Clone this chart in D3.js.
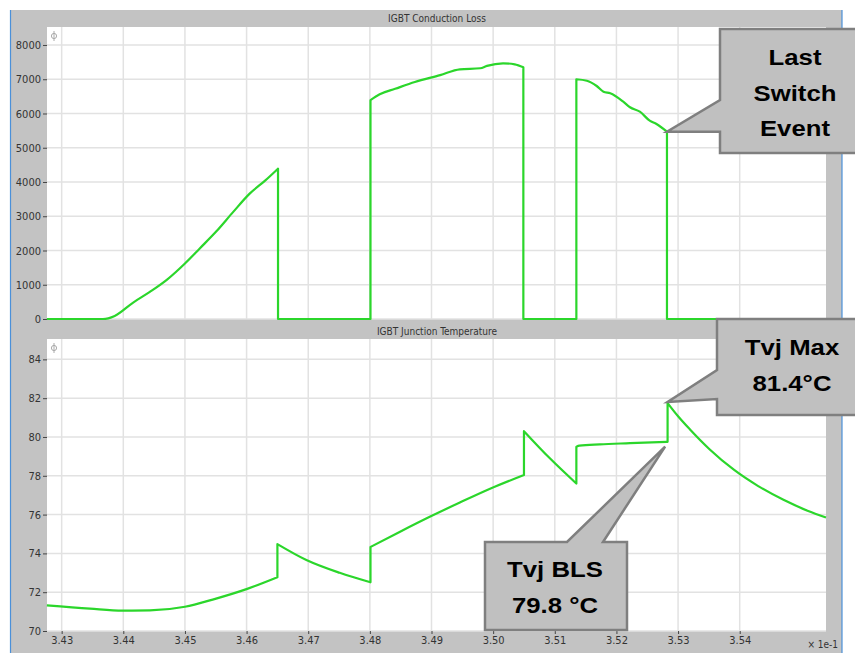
<!DOCTYPE html>
<html>
<head>
<meta charset="utf-8">
<script src="https://cdn.jsdelivr.net/npm/d3@7"></script>
<style>
  body { margin: 0; background: #fff; }
  svg { display: block; }
</style>
</head>
<body>
<svg id="chart" width="855" height="653"></svg>
<script>
// time axis in units of 1e-1 s
var lossTime = [3.4276, 3.4367, 3.4386, 3.4416, 3.4443, 3.4471, 3.4500, 3.4524, 3.4551, 3.4578, 3.4605, 3.4630, 3.4651,
                3.4651, 3.4801,
                3.4801, 3.4816, 3.4841, 3.4873, 3.4914, 3.4946, 3.4979, 3.4990, 3.5016, 3.5035, 3.5049,
                3.5049, 3.5135,
                3.5135, 3.5152, 3.5168, 3.5179, 3.5190, 3.5211, 3.5222, 3.5238, 3.5254, 3.5265, 3.5282,
                3.5282, 3.5540];
var lossValue = [0, 0, 90, 480, 790, 1150, 1620, 2060, 2560, 3120, 3660, 4040, 4390,
                 0, 0,
                 6390, 6560, 6720, 6920, 7120, 7290, 7320, 7390, 7465, 7436, 7350,
                 0, 0,
                 7000, 6957, 6803, 6637, 6589, 6345, 6181, 6053, 5790, 5693, 5469,
                 0, 0];

var tempTime = [3.4276, 3.4346, 3.4399, 3.4443, 3.4500, 3.4545, 3.4601, 3.4650,
                3.4650, 3.4697, 3.4751, 3.4801,
                3.4801, 3.4849, 3.4898, 3.4946, 3.4995, 3.5050,
                3.5050, 3.5092, 3.5135,
                3.5135, 3.5140, 3.5173, 3.5222, 3.5283,
                3.5283, 3.5300, 3.5319, 3.5351, 3.5391, 3.5430, 3.5471, 3.5510, 3.5540];
var tempValue = [71.32, 71.15, 71.05, 71.06, 71.25, 71.62, 72.17, 72.77,
                 74.48, 73.66, 73.0, 72.51,
                 74.33, 75.12, 75.9, 76.62, 77.33, 78.04,
                 80.3, 78.9, 77.6,
                 79.5, 79.55, 79.62, 79.68, 79.75,
                 81.75, 81.07, 80.4, 79.37, 78.3, 77.47, 76.76, 76.2, 75.85];

var xTicks = [3.43, 3.44, 3.45, 3.46, 3.47, 3.48, 3.49, 3.50, 3.51, 3.52, 3.53, 3.54];
var lossTicks = [0, 1000, 2000, 3000, 4000, 5000, 6000, 7000, 8000];
var tempTicks = [70, 72, 74, 76, 78, 80, 82, 84];

var titles = ["IGBT Conduction Loss", "IGBT Junction Temperature"];
var lastSwitchText = ["Last", "Switch", "Event"];
var maxText = ["Tvj Max", "81.4°C"];
var blsText = ["Tvj BLS", "79.8 °C"];

var svg = d3.select("#chart");
var gray = "#c3c3c3";
var green = "#2bd62b";
var tickFont = "'DejaVu Sans Condensed', 'DejaVu Sans', sans-serif";

var left = 47, right = 826;
var x = d3.scaleLinear().domain([3.42762, 3.5540]).range([left, right]);
var yLoss = d3.scaleLinear().domain([0, 8525]).range([319, 27]);
var yTemp = d3.scaleLinear().domain([70, 85.05]).range([631, 339]);

// frame
svg.append("rect").attr("x", 10).attr("y", 10).attr("width", 832).attr("height", 643).attr("fill", gray);
svg.append("line").attr("x1", 10.5).attr("x2", 10.5).attr("y1", 10).attr("y2", 653).attr("stroke", "#4a90d9").attr("stroke-width", 1.2);
svg.append("line").attr("x1", 842).attr("x2", 842).attr("y1", 10).attr("y2", 653).attr("stroke", "#4a90d9").attr("stroke-width", 1.2);

function panel(y, ticks, title, titleY, showX) {
  var top = y.range()[1], bottom = y.range()[0];
  var g = svg.append("g");
  g.append("rect").attr("x", left).attr("y", top).attr("width", right - left).attr("height", bottom - top).attr("fill", "#fff");

  // grid
  g.selectAll(".gx").data(xTicks).enter().append("line")
    .attr("x1", function(d) { return x(d); }).attr("x2", function(d) { return x(d); })
    .attr("y1", top).attr("y2", bottom)
    .attr("stroke", "#e2e2e2").attr("stroke-width", 1.5);
  g.selectAll(".gy").data(ticks).enter().append("line")
    .attr("x1", left).attr("x2", right)
    .attr("y1", function(d) { return y(d); }).attr("y2", function(d) { return y(d); })
    .attr("stroke", "#e2e2e2").attr("stroke-width", 1.5);

  // y axis
  var ax = g.append("g").attr("transform", "translate(" + left + ",0)")
    .call(d3.axisLeft(y).tickValues(ticks).tickSize(4).tickPadding(2).tickFormat(d3.format("d")));
  ax.select(".domain").remove();
  ax.selectAll("line").attr("stroke", "#444");
  ax.selectAll("text").attr("fill", "#333").style("font-family", tickFont).style("font-size", "11px");

  if (showX) {
    var bx = g.append("g").attr("transform", "translate(0," + bottom + ")")
      .call(d3.axisBottom(x).tickValues(xTicks).tickSize(3).tickPadding(2).tickFormat(d3.format(".2f")));
    bx.select(".domain").remove();
    bx.selectAll("line").attr("stroke", "#444");
    bx.selectAll("text").attr("fill", "#333").style("font-family", tickFont).style("font-size", "11px");
    g.append("text").attr("x", 838).attr("y", 648).attr("text-anchor", "end")
      .attr("fill", "#333").style("font-family", tickFont).style("font-size", "10px").text("× 1e-1");
  }

  // title
  g.append("text").attr("x", 437).attr("y", titleY).attr("text-anchor", "middle")
    .attr("fill", "#333").style("font-family", tickFont).style("font-size", "10px").text(title);

  // small handle icon
  g.append("circle").attr("cx", 54).attr("cy", top + 9).attr("r", 2.6).attr("fill", "none").attr("stroke", "#aaa").attr("stroke-width", 1);
  g.append("line").attr("x1", 54).attr("x2", 54).attr("y1", top + 4).attr("y2", top + 14).attr("stroke", "#aaa").attr("stroke-width", 1);
  return g;
}

panel(yLoss, lossTicks, titles[0], 22, false);
panel(yTemp, tempTicks, titles[1], 335, true);

// split a series at repeated times (vertical steps), smooth each piece, then join
function steppedPath(times, values, y) {
  var line = d3.line().x(function(d) { return x(d[0]); }).y(function(d) { return y(d[1]); }).curve(d3.curveMonotoneX);
  var pieces = [], cur = [];
  times.forEach(function(t, i) {
    if (cur.length && t === cur[cur.length - 1][0]) { pieces.push(cur); cur = []; }
    cur.push([t, values[i]]);
  });
  pieces.push(cur);
  return pieces.map(function(p, i) {
    var d = line(p);
    return i === 0 ? d : "L" + d.slice(1);
  }).join("");
}

svg.append("path").attr("d", steppedPath(lossTime, lossValue, yLoss)).attr("fill", "none").attr("stroke", green).attr("stroke-width", 2.2).attr("stroke-linejoin", "round");
svg.append("path").attr("d", steppedPath(tempTime, tempValue, yTemp)).attr("fill", "none").attr("stroke", green).attr("stroke-width", 2.2).attr("stroke-linejoin", "round");

// callouts
function callout(path, lines, cx, baseline, step) {
  svg.append("path").attr("d", path).attr("fill", "#c0c0c0").attr("stroke", "#7f7f7f").attr("stroke-width", 2.5).attr("stroke-linejoin", "miter");
  lines.forEach(function(t, i) {
    svg.append("text")
      .attr("transform", "translate(" + cx + "," + (baseline + i * step) + ") scale(1.17,1)")
      .attr("text-anchor", "middle")
      .style("font-family", "'Liberation Sans', Arial, sans-serif")
      .style("font-weight", "bold").style("font-size", "22px")
      .attr("fill", "#000").text(t);
  });
}

var tipLast = [x(3.5282), yLoss(5469)];
callout("M720,29H857V153H720V" + tipLast[1] + "L" + tipLast[0] + "," + tipLast[1] + "L720,100Z",
  lastSwitchText, 795, 65, 35.5);

var tipMax = [x(3.5283), yTemp(81.75) - 1];
callout("M717,319H857V415H717V399L" + tipMax[0] + "," + tipMax[1] + "L717,370Z",
  maxText, 792, 355, 36);

var tipBls = [x(3.5279), yTemp(79.5)];
callout("M485,542H567L" + tipBls[0] + "," + tipBls[1] + "L603,542H627V630H485Z",
  blsText, 555, 577, 36);
</script>
</body>
</html>
